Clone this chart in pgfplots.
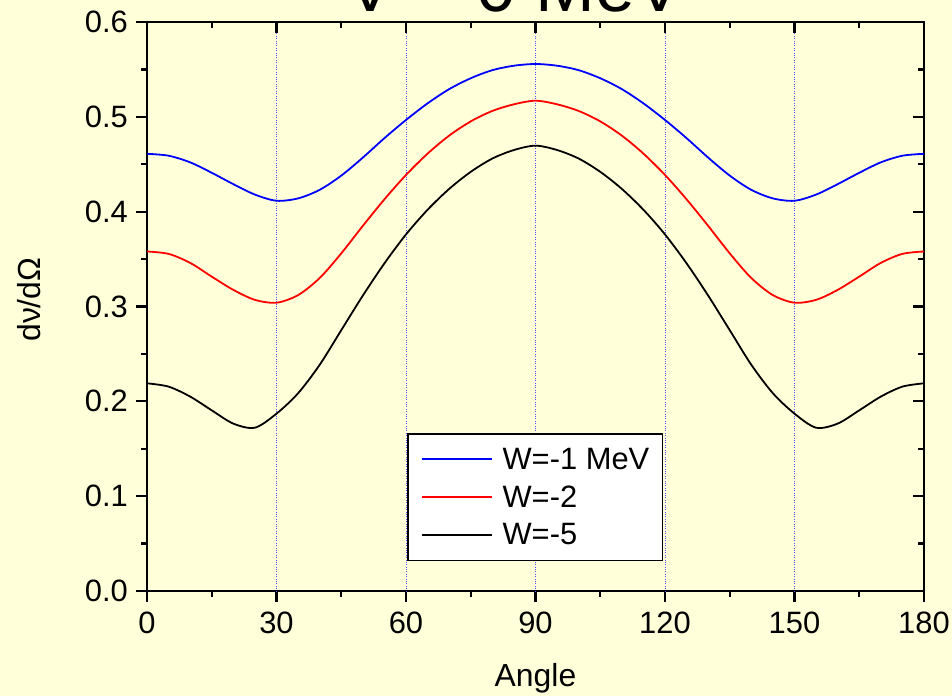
\documentclass[border=0pt]{standalone}
\usepackage{fontspec}
\setmainfont{Liberation Sans}
\usepackage{pgfplots}
\pgfplotsset{compat=1.18}
\definecolor{bg}{RGB}{255,255,217}
\definecolor{gridblue}{RGB}{80,80,255}
\newcommand{\bigf}{\fontsize{31}{36}\selectfont}
\newcommand{\labf}{\fontsize{32}{38}\selectfont}
\begin{document}
\begin{tikzpicture}
\useasboundingbox (0bp,0bp) rectangle (952bp,696bp);
\clip (0bp,0bp) rectangle (952bp,696bp);
\fill[bg] (0bp,0bp) rectangle (952bp,696bp);
\node[anchor=base, font=\fontsize{72}{80}\selectfont] at (515bp,684bp) {V = 0 MeV};
\begin{axis}[
  at={(147bp,105bp)}, anchor=south west,
  width=777bp, height=569bp, scale only axis,
  xmin=0, xmax=180, ymin=0, ymax=0.6,
  xtick={0,30,...,180}, minor xtick={15,45,...,165},
  ytick={0,0.1,...,0.6}, minor ytick={0.05,0.15,...,0.55},
  xtick pos=left, ytick pos=left, tick align=outside,
  major tick length=11bp, minor tick length=6bp,
  every tick/.style={black, line width=2.2bp},
  axis line style={line width=2.6bp},
  /pgf/number format/assume math mode=true,
  tick label style={font=\bigf},
  xticklabel style={inner sep=0bp, yshift=-10bp},
  yticklabel style={inner sep=0bp, xshift=-8bp, /pgf/number format/.cd, fixed, fixed zerofill, precision=1},
  extra x ticks={30,60,90,120,150}, extra x tick labels={},
  extra x tick style={grid=major, major tick length=0bp},
  grid style={gridblue, dotted, line width=0.9bp},
  xlabel={Angle}, ylabel={dν/dΩ},
  label style={font=\labf},
  xlabel style={at={(axis description cs:0.5,-0.167)}, anchor=base},
  ylabel style={at={(axis description cs:-0.152,0.512)}, anchor=center},
  legend style={at={(0.3346,0.2777)}, anchor=north west, draw=black, line width=1.6bp,
    fill=white, font=\bigf, row sep=15bp, column sep=10bp,
    inner xsep=13bp, inner ysep=14bp, nodes={inner sep=0bp}},
  legend cell align=left,
  legend image code/.code={\draw[#1, line width=1.8bp] (0bp,0bp) -- (70bp,0bp);},
]
\addplot[blue, line width=1.8bp, smooth] coordinates {
(0,0.461)(5,0.459)(10,0.452)(15,0.441)(20,0.429)(25,0.418)(30,0.4115)(35,0.414)(40,0.423)(45,0.438)
(50,0.457)(55,0.4775)(60,0.4967)(65,0.5142)(70,0.5292)(75,0.5407)(80,0.5492)(85,0.5539)(90,0.5557)
(95,0.5539)(100,0.5492)(105,0.5407)(110,0.5292)(115,0.5142)(120,0.4967)(125,0.4775)(130,0.457)(135,0.438)
(140,0.423)(145,0.414)(150,0.4115)(155,0.418)(160,0.429)(165,0.441)(170,0.452)(175,0.459)(180,0.461)};
\addlegendentry{W=-1 MeV}
\addplot[red, line width=1.8bp, smooth] coordinates {
(0,0.358)(5,0.3555)(10,0.346)(15,0.3315)(20,0.3175)(25,0.307)(30,0.304)(35,0.312)(40,0.330)(45,0.356)
(50,0.385)(55,0.413)(60,0.4387)(65,0.4612)(70,0.4802)(75,0.4952)(80,0.5062)(85,0.5132)(90,0.517)
(95,0.5132)(100,0.5062)(105,0.4952)(110,0.4802)(115,0.4612)(120,0.4387)(125,0.413)(130,0.385)(135,0.356)
(140,0.330)(145,0.312)(150,0.304)(155,0.307)(160,0.3175)(165,0.3315)(170,0.346)(175,0.3555)(180,0.358)};
\addlegendentry{W=-2}
\addplot[black, line width=1.8bp, smooth] coordinates {
(0,0.219)(5,0.2155)(10,0.205)(15,0.1905)(20,0.1765)(25,0.1722)(30,0.187)(35,0.2085)(40,0.2385)(45,0.2750)
(50,0.3115)(55,0.3455)(60,0.3760)(65,0.4020)(70,0.4240)(75,0.4420)(80,0.4560)(85,0.4650)(90,0.4696)
(95,0.4650)(100,0.4560)(105,0.4420)(110,0.4240)(115,0.4020)(120,0.3760)(125,0.3455)(130,0.3115)(135,0.2750)
(140,0.2385)(145,0.2085)(150,0.187)(155,0.1722)(160,0.1765)(165,0.1905)(170,0.205)(175,0.2155)(180,0.219)};
\addlegendentry{W=-5}
\end{axis}
\begin{axis}[
  at={(147bp,105bp)}, anchor=south west,
  width=777bp, height=569bp, scale only axis,
  xmin=0, xmax=180, ymin=0, ymax=0.6,
  xtick={0,30,...,180}, minor xtick={15,45,...,165},
  ytick={0,0.1,...,0.6}, minor ytick={0.05,0.15,...,0.55},
  xtick pos=right, ytick pos=right, tick align=inside,
  major tick length=11bp, minor tick length=6bp,
  every tick/.style={black, line width=2.2bp},
  axis line style={draw=none},
  xticklabels={}, yticklabels={},
]
\end{axis}
\end{tikzpicture}
\end{document}
